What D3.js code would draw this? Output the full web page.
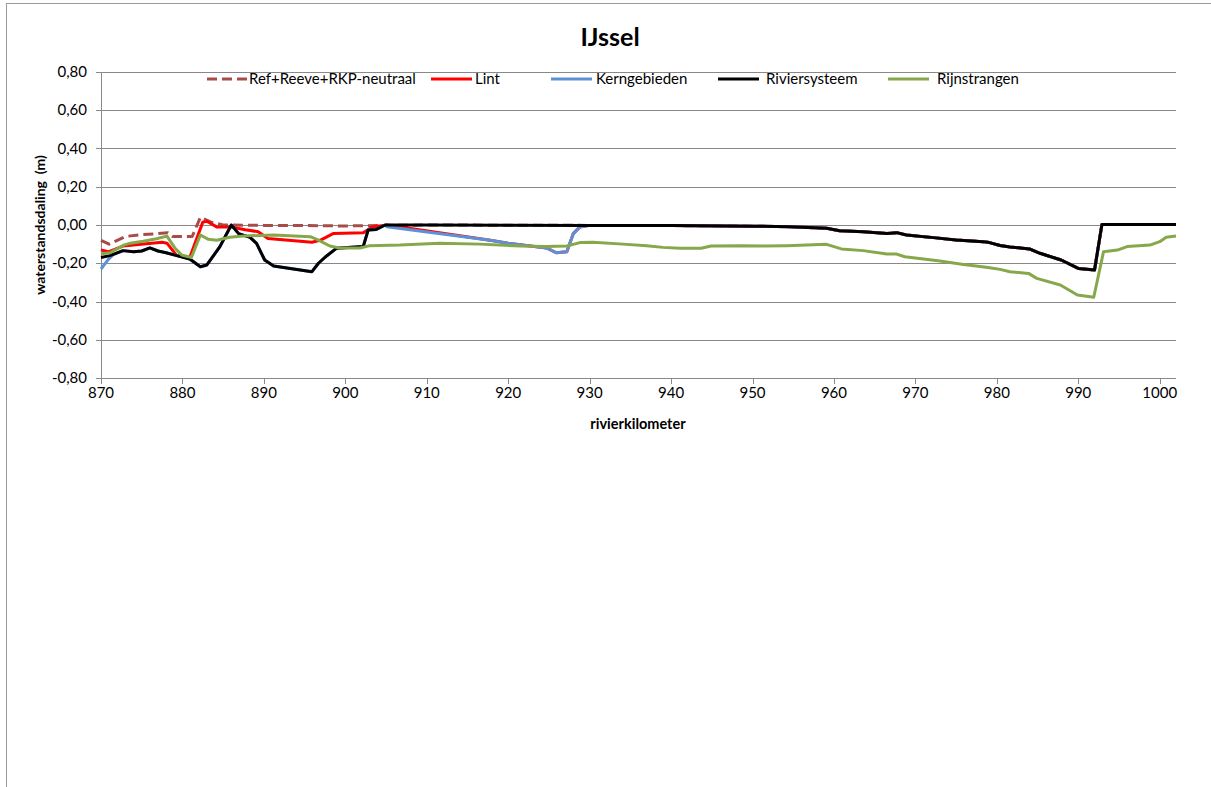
<!DOCTYPE html>
<html><head><meta charset="utf-8">
<script src="https://cdn.jsdelivr.net/npm/d3@7"></script>
<style>body{margin:0;background:#fff;font-family:Lato,"Open Sans",sans-serif}</style>
</head><body><svg id="c" width="1211" height="787"></svg>
<script>
const seriesNames = ["Ref+Reeve+RKP-neutraal","Lint","Kerngebieden","Riviersysteem","Rijnstrangen"];
const xTicks = [870,880,890,900,910,920,930,940,950,960,970,980,990,1000];
const yTicks = [-0.8,-0.6,-0.4,-0.2,0,0.2,0.4,0.6,0.8];
const yTickLabels = ["-0,80","-0,60","-0,40","-0,20","0,00","0,20","0,40","0,60","0,80"];

const refKm  = [870,871,873,875,877,878.2,878.8,881.2,882.2,883.5,885,890,895,900,905,910,930,940,950,954.6,959.1,960.7,963.6,966.5,967.7,968.9,972.2,975,978.3,979.1,980.4,981.6,984,985.3,987.9,990,992,992.9,1002];
const refVal = [-0.08,-0.10,-0.06,-0.05,-0.045,-0.04,-0.06,-0.06,0.04,0.015,0.0,-0.002,-0.003,-0.005,-0.002,0.0,-0.002,-0.003,-0.006,-0.009,-0.017,-0.03,-0.035,-0.044,-0.04,-0.052,-0.066,-0.078,-0.087,-0.092,-0.107,-0.115,-0.125,-0.148,-0.183,-0.227,-0.235,0.002,0.002];

const lintKm  = [870,870.9,872.7,877.5,878.1,879.3,880.9,882.5,883,884.2,886,887.7,889.3,890.5,895.9,896.9,898.5,902.2,903.3,905.1,917.8,920,924.7,925.9,927.2,928,928.8,930,940,950,954.6,959.1,960.7,963.6,966.5,967.7,968.9,972.2,975,978.3,979.1,980.4,981.6,984,985.3,987.9,990,992,992.9,1002];
const lintVal = [-0.13,-0.14,-0.11,-0.09,-0.095,-0.16,-0.17,0.015,0.02,-0.01,-0.01,-0.025,-0.035,-0.07,-0.09,-0.08,-0.045,-0.04,-0.01,0.0,-0.08,-0.095,-0.12,-0.145,-0.14,-0.045,-0.01,-0.002,-0.003,-0.006,-0.009,-0.017,-0.03,-0.035,-0.044,-0.04,-0.052,-0.066,-0.078,-0.087,-0.092,-0.107,-0.115,-0.125,-0.148,-0.183,-0.227,-0.235,0.002,0.002];

const kernKm  = [870,870.9,871.5,872.7,874,875,876,877,878,879.3,880.9,882.2,883,884.6,886,886.9,888.3,889.1,890.1,891.2,895.9,896.7,897.7,898.9,902.2,902.8,903.8,904.9,905.1,917.8,920,924.7,925.9,927.2,928,928.8,930,940,950,954.6,959.1,960.7,963.6,966.5,967.7,968.9,972.2,975,978.3,979.1,980.4,981.6,984,985.3,987.9,990,992,992.9,1002];
const kernVal = [-0.23,-0.18,-0.155,-0.134,-0.14,-0.136,-0.12,-0.136,-0.145,-0.16,-0.178,-0.218,-0.209,-0.113,0.0,-0.045,-0.065,-0.096,-0.183,-0.214,-0.244,-0.2,-0.162,-0.122,-0.113,-0.026,-0.023,0.0,-0.009,-0.08,-0.095,-0.12,-0.145,-0.14,-0.045,-0.01,-0.002,-0.003,-0.006,-0.009,-0.017,-0.03,-0.035,-0.044,-0.04,-0.052,-0.066,-0.078,-0.087,-0.092,-0.107,-0.115,-0.125,-0.148,-0.183,-0.227,-0.235,0.002,0.002];

const rivKm  = [870,871.1,872.7,874,875,876,877,878,879.3,880.9,882.2,883,884.6,886,886.9,888.3,889.1,890.1,891.2,895.9,896.7,897.7,898.9,902.2,902.8,903.8,904.9,910,930,940,950,954.6,959.1,960.7,963.6,966.5,967.7,968.9,972.2,975,978.3,979.1,980.4,981.6,984,985.3,987.9,990,992,992.9,1002];
const rivVal = [-0.17,-0.16,-0.134,-0.14,-0.136,-0.12,-0.136,-0.145,-0.16,-0.178,-0.218,-0.209,-0.113,0.0,-0.045,-0.065,-0.096,-0.183,-0.214,-0.244,-0.2,-0.162,-0.122,-0.113,-0.026,-0.023,0.0,0.0,-0.002,-0.003,-0.006,-0.009,-0.017,-0.03,-0.035,-0.044,-0.04,-0.052,-0.066,-0.078,-0.087,-0.092,-0.107,-0.115,-0.125,-0.148,-0.183,-0.227,-0.235,0.002,0.002];

const rijnKm  = [870,871.1,872.8,873.6,875.2,876.8,878.1,879.1,879.9,881.1,882.2,883.2,884.2,885.8,887.5,891.2,895.7,896.5,898.1,899.3,901.8,903,906.7,911.6,916.5,921.4,924.7,927.2,928.8,930.4,934.1,937,939,941.1,943.7,944.9,948.4,951.3,954.2,959.1,960.9,963.6,966.5,967.7,968.7,971,973,975.9,978.7,980.4,981.6,983.9,984.9,987.8,989.9,991.9,993.1,994.8,996,998.8,1000,1000.8,1002];
const rijnVal = [-0.15,-0.145,-0.105,-0.095,-0.085,-0.072,-0.058,-0.122,-0.157,-0.17,-0.052,-0.075,-0.08,-0.064,-0.058,-0.052,-0.061,-0.075,-0.11,-0.12,-0.12,-0.108,-0.105,-0.096,-0.1,-0.11,-0.113,-0.11,-0.092,-0.09,-0.1,-0.108,-0.117,-0.122,-0.122,-0.11,-0.108,-0.11,-0.108,-0.101,-0.125,-0.134,-0.152,-0.152,-0.166,-0.178,-0.188,-0.206,-0.221,-0.232,-0.244,-0.253,-0.279,-0.314,-0.366,-0.378,-0.14,-0.131,-0.113,-0.105,-0.087,-0.064,-0.058];

const kmSets  = [refKm, lintKm, kernKm, rivKm, rijnKm];
const valSets = [refVal, lintVal, kernVal, rivVal, rijnVal];
const colors  = ["#A84C49","#FF0000","#5B92D6","#000000","#86A84A"];
const dashes  = ["10,5",null,null,null,null];

const svg = d3.select("#c");
const W = 1211, H = 787;
const x = d3.scaleLinear().domain([870,1002]).range([101,1176]);
const y = d3.scaleLinear().domain([-0.8,0.8]).range([378,72]);
const grid = "#898989";

// outer border
svg.append("rect").attr("x",6.5).attr("y",3.5).attr("width",W).attr("height",H).attr("fill","none").attr("stroke","#9a9a9a");

// gridlines
svg.append("g").selectAll("line").data(yTicks).join("line")
  .attr("x1",96).attr("x2",x(1002))
  .attr("y1",d=>Math.round(y(d))+0.5).attr("y2",d=>Math.round(y(d))+0.5)
  .attr("stroke",grid).attr("stroke-width",1);
// left axis
svg.append("line").attr("x1",101.5).attr("x2",101.5).attr("y1",y(0.8)).attr("y2",y(-0.8)).attr("stroke",grid);
// x ticks
svg.append("g").selectAll("line").data(xTicks).join("line")
  .attr("x1",d=>Math.round(x(d))+0.5).attr("x2",d=>Math.round(x(d))+0.5)
  .attr("y1",378).attr("y2",384).attr("stroke",grid);

// tick labels
svg.append("g").selectAll("text").data(yTicks).join("text")
  .attr("x",87).attr("y",d=>y(d)+5).attr("text-anchor","end")
  .attr("font-size",15).attr("fill","#000").text((d,i)=>yTickLabels[i]);
svg.append("g").selectAll("text").data(xTicks).join("text")
  .attr("x",d=>x(d)).attr("y",398).attr("text-anchor","middle")
  .attr("font-size",15).attr("fill","#000").text(d=>d);

// titles
svg.append("text").attr("x",610).attr("y",46).attr("text-anchor","middle")
  .attr("font-size",25).attr("font-weight","bold").text("IJssel");
svg.append("text").attr("x",638).attr("y",429).attr("text-anchor","middle")
  .attr("font-size",14.5).attr("font-weight","bold").text("rivierkilometer");
svg.append("text").attr("transform","translate(45,225) rotate(-90)").attr("text-anchor","middle")
  .attr("font-size",14).attr("font-weight","bold").attr("xml:space","preserve").text("waterstandsdaling  (m)");

// lines
const line = d3.line().x(d=>x(d[0])).y(d=>y(d[1]));
const g = svg.append("g");
kmSets.forEach((ks,i)=>{
  const pts = ks.map((k,j)=>[k,valSets[i][j]]);
  g.append("path").datum(pts).attr("d",line).attr("fill","none")
    .attr("stroke",colors[i]).attr("stroke-width",3).attr("stroke-linejoin","round")
    .attr("stroke-dasharray",dashes[i]);
});

// legend
const legX = [207,431,551,718,888];
const legTextX = [249,475,596,766,937];
const lg = svg.append("g");
seriesNames.forEach((n,i)=>{
  lg.append("line").attr("x1",legX[i]).attr("x2",legX[i]+41).attr("y1",79).attr("y2",79)
    .attr("stroke",colors[i]).attr("stroke-width",3).attr("stroke-dasharray",dashes[i]);
  lg.append("text").attr("x",legTextX[i]).attr("y",84).attr("font-size",15).text(n);
});
</script></body></html>
